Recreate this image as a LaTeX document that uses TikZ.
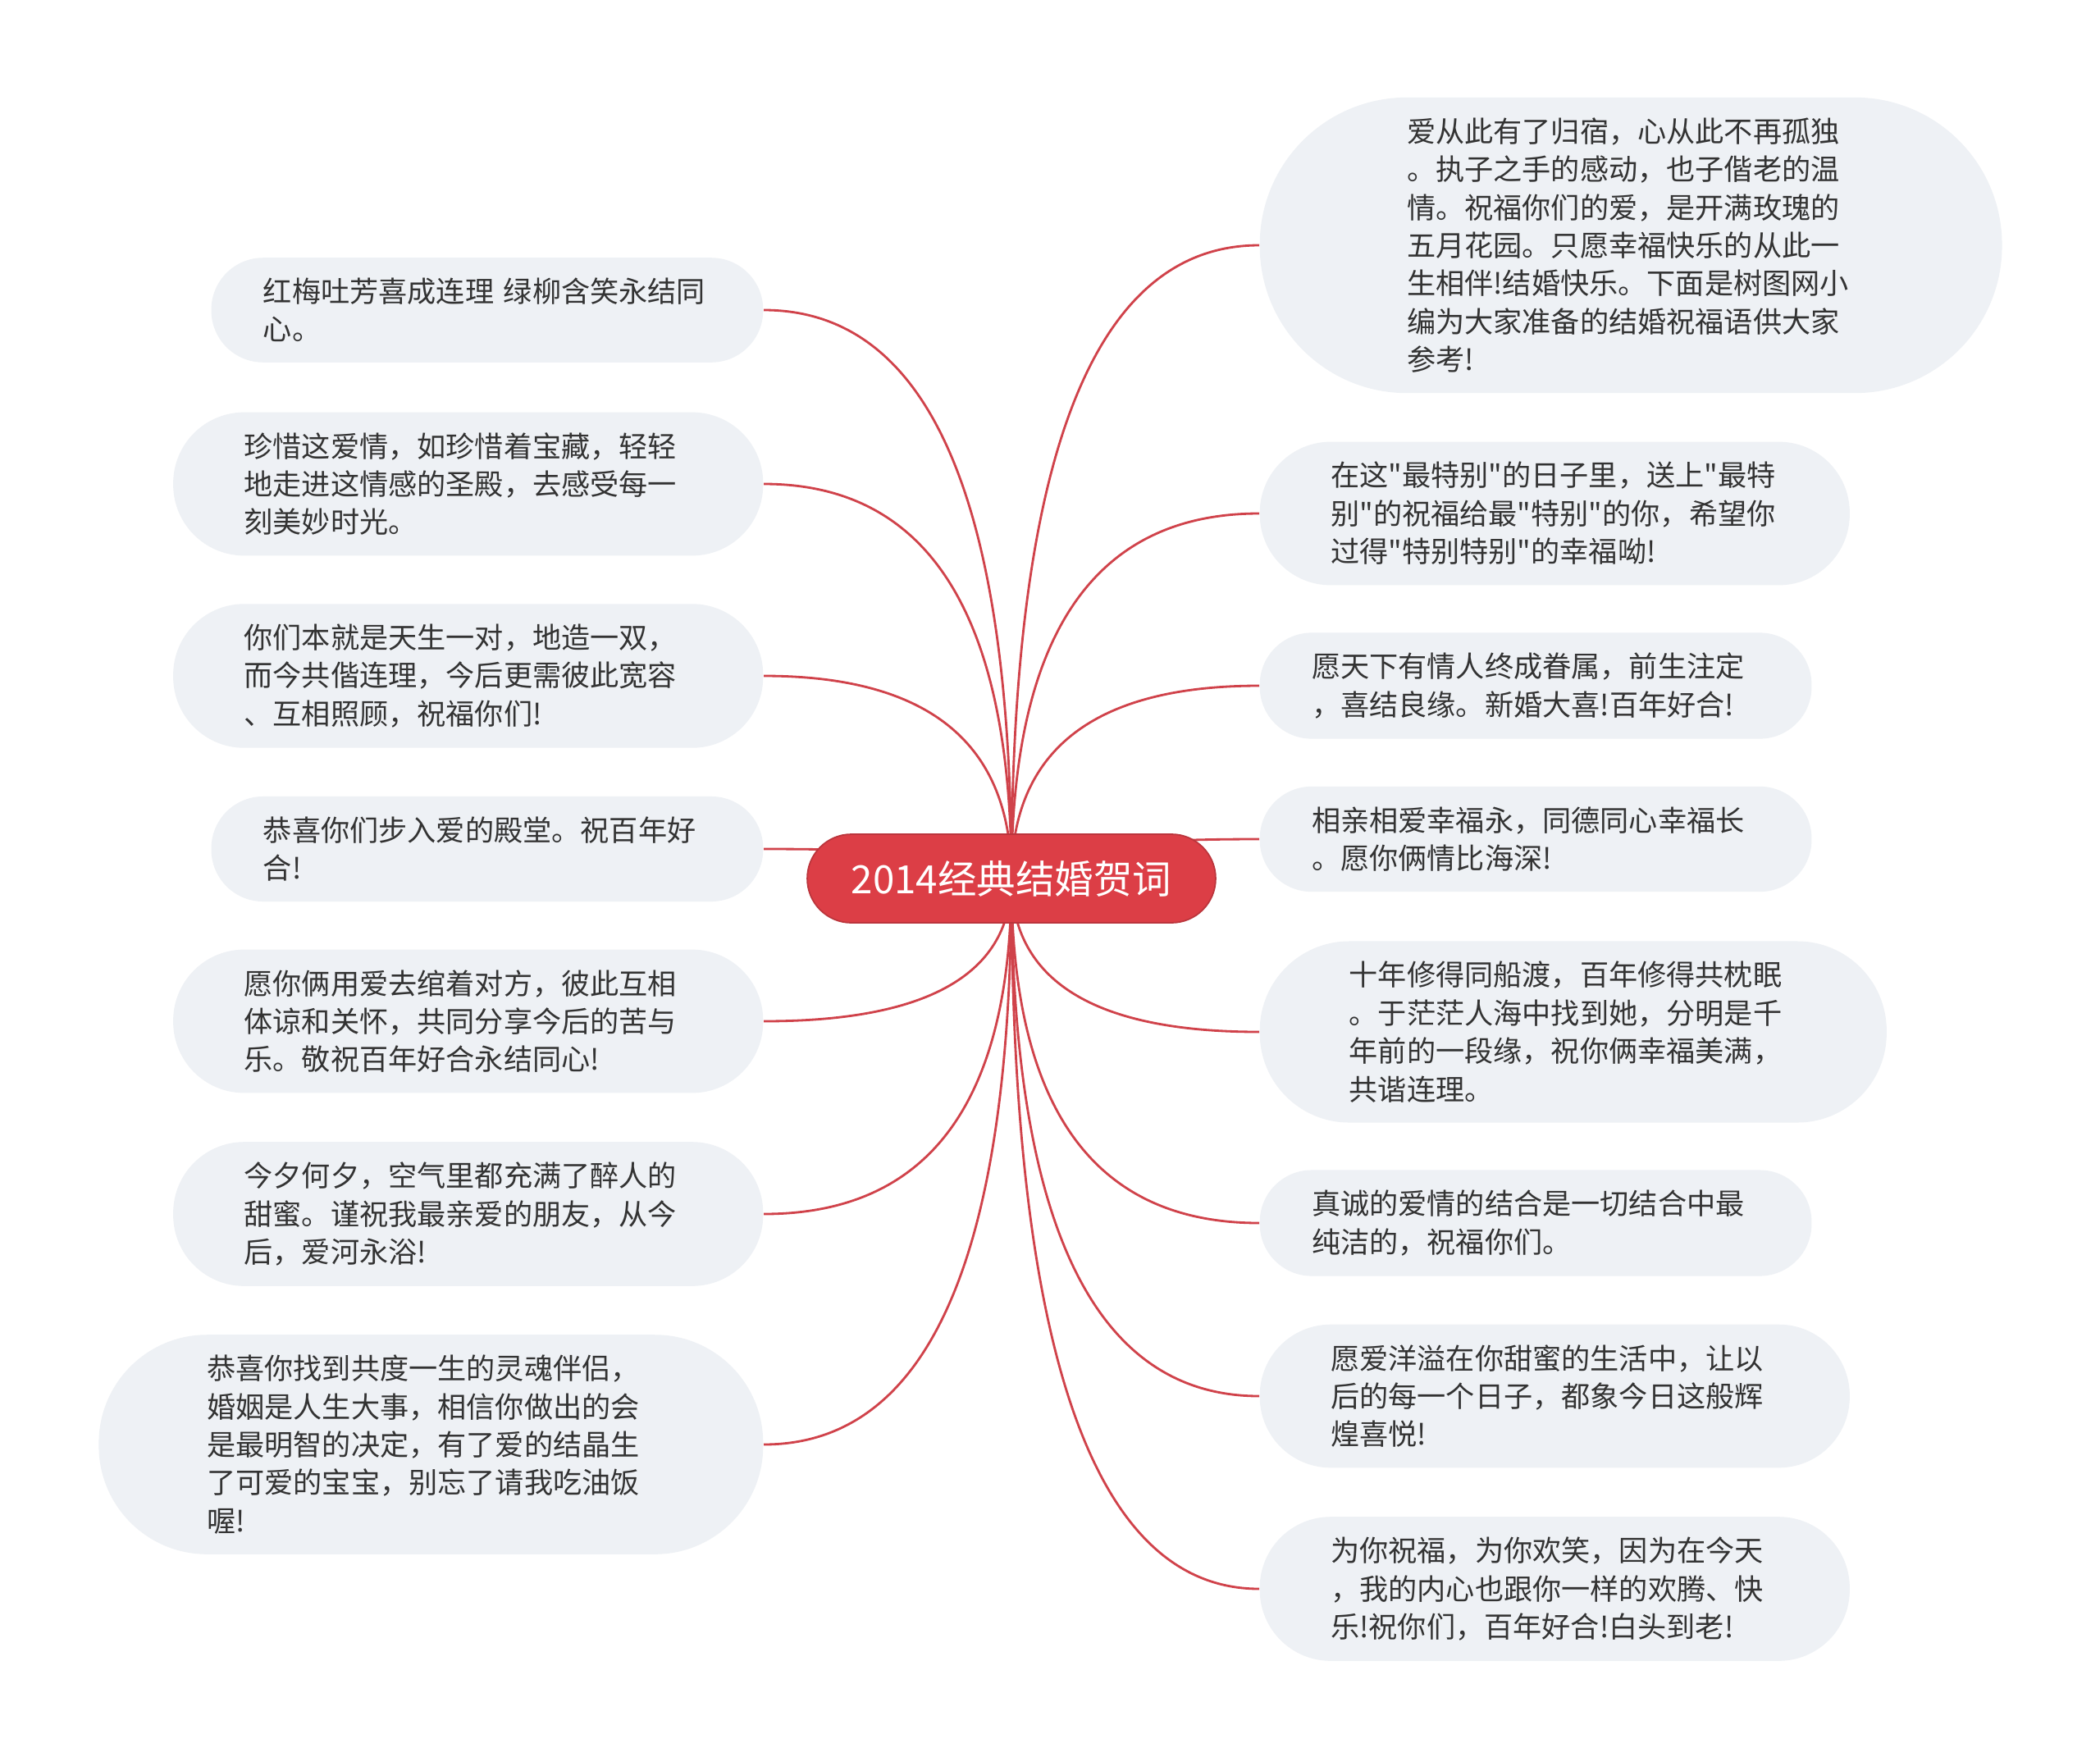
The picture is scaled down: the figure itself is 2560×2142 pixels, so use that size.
\documentclass[tikz,border=0pt]{standalone}
\usepackage{fontspec}
\newfontfamily\cjk{Noto Sans CJK SC}
\usepackage{tikz}
\usetikzlibrary{calc,backgrounds}
\definecolor{hubred}{HTML}{DC3E46}
\definecolor{twigred}{HTML}{D0424A}
\definecolor{leafgray}{HTML}{EEF1F5}
\definecolor{inkgray}{HTML}{333333}
\tikzset{
  topic/.style={rectangle, rounded corners=15.3pt, fill=hubred, draw=hubred!85!black,
    line width=0.5pt, text=white, minimum height=30.7pt, inner xsep=15.3pt,
    font=\cjk\fontsize{13.5pt}{16pt}\selectfont},
  wish/.style={rectangle, rounded corners=#1, inner xsep=#1, fill=leafgray,
    text=inkgray, align=left, text width=155.3pt, inner ysep=7pt,
    font=\cjk\fontsize{10pt}{13.2pt}\selectfont},
  wish/.default=18pt,
  branch/.style={draw=twigred, line width=0.8pt,
    to path={.. controls ($(\tikztostart)!0.667!(\tikztostart |- \tikztotarget)$)
      and ($(\tikztotarget)!0.667!(\tikztostart |- \tikztotarget)$) .. (\tikztotarget)}},
}

\begin{document}
\begin{tikzpicture}[x=0.01cm,y=-0.01cm]
  \useasboundingbox (0,0) rectangle (2560,2142);
  % centre
  \node[topic] (hub) at (1233,1071) {2014经典结婚贺词};
  % right side
  \node[wish=51pt, anchor=west] (r1) at (1535,299) {爱从此有了归宿，心从此不再孤独\\。执子之手的感动，也子偕老的温\\情。祝福你们的爱，是开满玫瑰的\\五月花园。只愿幸福快乐的从此一\\生相伴!结婚快乐。下面是树图网小\\编为大家准备的结婚祝福语供大家\\参考!};
  \node[wish=24.6pt, anchor=west] (r2) at (1535,626) {在这"最特别"的日子里，送上"最特\\别"的祝福给最"特别"的你，希望你\\过得"特别特别"的幸福呦!};
  \node[wish, anchor=west] (r3) at (1535,836) {愿天下有情人终成眷属，前生注定\\，喜结良缘。新婚大喜!百年好合!};
  \node[wish, anchor=west] (r4) at (1535,1023) {相亲相爱幸福永，同德同心幸福长\\。愿你俩情比海深!};
  \node[wish=31pt, anchor=west] (r5) at (1535,1258) {十年修得同船渡，百年修得共枕眠\\。于茫茫人海中找到她，分明是千\\年前的一段缘，祝你俩幸福美满，\\共谐连理。};
  \node[wish, anchor=west] (r6) at (1535,1491) {真诚的爱情的结合是一切结合中最\\纯洁的，祝福你们。};
  \node[wish=24.6pt, anchor=west] (r7) at (1535,1702) {愿爱洋溢在你甜蜜的生活中，让以\\后的每一个日子，都象今日这般辉\\煌喜悦!};
  \node[wish=24.6pt, anchor=west] (r8) at (1535,1937) {为你祝福，为你欢笑，因为在今天\\，我的内心也跟你一样的欢腾、快\\乐!祝你们，百年好合!白头到老!};
  % left side
  \node[wish, anchor=east] (l1) at (931,378) {红梅吐芳喜成连理 绿柳含笑永结同\\心。};
  \node[wish=24.6pt, anchor=east] (l2) at (931,590) {珍惜这爱情，如珍惜着宝藏，轻轻\\地走进这情感的圣殿，去感受每一\\刻美妙时光。};
  \node[wish=24.6pt, anchor=east] (l3) at (931,824) {你们本就是天生一对，地造一双，\\而今共偕连理，今后更需彼此宽容\\、互相照顾，祝福你们!};
  \node[wish, anchor=east] (l4) at (931,1035) {恭喜你们步入爱的殿堂。祝百年好\\合!};
  \node[wish=24.6pt, anchor=east] (l5) at (931,1245) {愿你俩用爱去绾着对方，彼此互相\\体谅和关怀，共同分享今后的苦与\\乐。敬祝百年好合永结同心!};
  \node[wish=24.6pt, anchor=east] (l6) at (931,1480) {今夕何夕，空气里都充满了醉人的\\甜蜜。谨祝我最亲爱的朋友，从今\\后，爱河永浴!};
  \node[wish=37.5pt, anchor=east] (l7) at (931,1761) {恭喜你找到共度一生的灵魂伴侣，\\婚姻是人生大事，相信你做出的会\\是最明智的决定，有了爱的结晶生\\了可爱的宝宝，别忘了请我吃油饭\\喔!};
  \begin{scope}[on background layer]
    \fill[white] (0,0) rectangle (2560,2142);
    \draw[branch] (hub.center) to (r1.west);
    \draw[branch] (hub.center) to (r2.west);
    \draw[branch] (hub.center) to (r3.west);
    \draw[branch] (hub.center) to (r4.west);
    \draw[branch] (hub.center) to (r5.west);
    \draw[branch] (hub.center) to (r6.west);
    \draw[branch] (hub.center) to (r7.west);
    \draw[branch] (hub.center) to (r8.west);
    \draw[branch] (hub.center) to (l1.east);
    \draw[branch] (hub.center) to (l2.east);
    \draw[branch] (hub.center) to (l3.east);
    \draw[branch] (hub.center) to (l4.east);
    \draw[branch] (hub.center) to (l5.east);
    \draw[branch] (hub.center) to (l6.east);
    \draw[branch] (hub.center) to (l7.east);
  \end{scope}
\end{tikzpicture}
\end{document}
